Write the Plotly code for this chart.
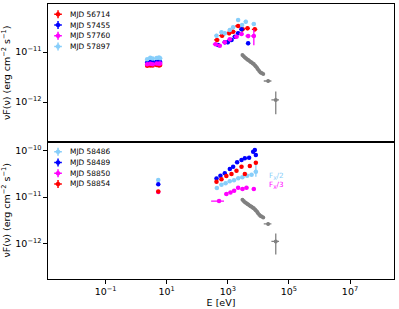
import plotly.graph_objects as go

# ------------------------------------------------------------------ data
# --- top panel: optical/UV (eV, erg cm-2 s-1)
E_uv_top = [2.3, 2.9, 3.5, 4.7, 5.6, 6.1]
F_uv_56714 = [5.3e-12, 5.4e-12, 5.4e-12, 5.5e-12, 5.4e-12, 5.5e-12]
F_uv_57455 = [6.2e-12, 6.4e-12, 6.3e-12, 6.4e-12, 6.5e-12, 6.3e-12]
F_uv_57760 = [5.7e-12, 5.8e-12, 5.7e-12, 5.9e-12, 5.8e-12, 5.9e-12]
F_uv_57897 = [7.2e-12, 7.7e-12, 7.4e-12, 7.6e-12, 7.8e-12, 7.5e-12]

# --- top panel: X-ray
E_x_56714 = [444, 650, 1104, 1494, 2178, 3034, 4424, 7674]
F_x_56714 = [1.74e-11, 2.12e-11, 2.37e-11, 2.55e-11, 3.31e-11, 2.84e-11, 2.98e-11, 2.84e-11]
E_x_57455 = [481, 797, 1000, 1321, 1698, 2178, 2814, 4632]
F_x_57455 = [1.38e-11, 1.56e-11, 1.56e-11, 1.74e-11, 2.02e-11, 2.37e-11, 2.84e-11, 1.49e-11]
E_x_57760 = [396, 547, 797, 1164, 1928, 2814, 4632, 7117]
F_x_57760 = [1.43e-11, 1.34e-11, 1.56e-11, 1.79e-11, 2.02e-11, 2.29e-11, 2.09e-11, 2.09e-11]
Ferr_pct_57760 = [8, 8, 8, 8, 8, 8, 10, 35]
E_x_57897 = [427, 621, 797, 1164, 1494, 2178, 2944, 3891, 7117]
F_x_57897 = [2.12e-11, 2.48e-11, 2.37e-11, 2.75e-11, 3.12e-11, 4.37e-11, 3.47e-11, 4.04e-11, 3.63e-11]

# --- hard X-ray (grey, both panels)
E_hx = [3020, 3311, 3631, 3981, 4365, 4677, 5129, 5623, 6026, 6607, 7079, 7762,
        8318, 9120, 9772, 10715, 11749, 12882, 14454, 20893, 37154]
F_hx = [8.71e-12, 8.22e-12, 7.76e-12, 7.41e-12, 7.08e-12, 6.92e-12, 6.61e-12, 6.31e-12,
        6.17e-12, 5.89e-12, 5.75e-12, 5.37e-12, 5.13e-12, 4.79e-12, 4.47e-12, 4.17e-12,
        3.89e-12, 3.80e-12, 3.63e-12, 2.63e-12, 1.10e-12]
Eerr_pct_hx = [3] * 19 + [28, 28]
Ferr_pct_hx = [5] * 19 + [8, 48]

# --- bottom panel: optical/UV
E_uv_bot = [5.3]
F_uv_58486 = [2.34e-11]
F_uv_58489 = [1.90e-11]
F_uv_58850 = [1.28e-11]
F_uv_58854 = [1.32e-11]

# --- bottom panel: X-ray
E_x_58486 = [440, 620, 850, 1160, 1600, 2200, 3000, 4300, 6000, 8300]
F_x_58486 = [1.56e-11, 1.85e-11, 1.98e-11, 2.20e-11, 2.30e-11, 2.55e-11, 2.68e-11, 2.90e-11, 3.05e-11, 3.52e-11]
Ferr_up_pct_58486 = [6, 6, 6, 6, 6, 6, 6, 6, 6, 53]
Ferr_dn_pct_58486 = [6, 6, 6, 6, 6, 6, 6, 6, 6, 22]
E_x_58489 = [427, 575, 797, 1164, 1494, 2018, 2814, 3606, 4989, 6761, 7674, 8279]
F_x_58489 = [2.53e-11, 2.88e-11, 3.25e-11, 4.03e-11, 4.51e-11, 5.62e-11, 6.30e-11, 6.86e-11,
             7.06e-11, 9.50e-11, 1.035e-10, 8.07e-11]
E_x_58850 = [518, 899, 1225, 1610, 2178, 3034, 4100, 7117]
F_x_58850 = [8.2e-12, 1.16e-11, 1.26e-11, 1.37e-11, 1.59e-11, 1.49e-11, 1.59e-11, 1.49e-11]
Eerr_pct_58850 = [45, 15, 15, 15, 15, 15, 15, 15]
E_x_58854 = [427, 621, 899, 1321, 1928, 2814, 3606, 5260, 8279]
F_x_58854 = [2.14e-11, 2.41e-11, 2.84e-11, 3.14e-11, 3.70e-11, 4.51e-11, 3.14e-11, 4.68e-11, 5.51e-11]

labels_top = ["MJD 56714", "MJD 57455", "MJD 57760", "MJD 57897"]
labels_bot = ["MJD 58486", "MJD 58489", "MJD 58850", "MJD 58854"]
x_tickvals = [1e-1, 1e1, 1e3, 1e5, 1e7]
x_ticktext = ["10<sup>−1</sup>", "10<sup>1</sup>", "10<sup>3</sup>", "10<sup>5</sup>", "10<sup>7</sup>"]
y_tickvals_top = [1e-12, 1e-11]
y_ticktext_top = ["10<sup>−12</sup>", "10<sup>−11</sup>"]
y_tickvals_bot = [1e-12, 1e-11, 1e-10]
y_ticktext_bot = ["10<sup>−12</sup>", "10<sup>−11</sup>", "10<sup>−10</sup>"]
fx_notes = ["F<sub>X</sub>/2", "F<sub>X</sub>/3"]

# ------------------------------------------------------------------ style
FONT = "DejaVu Sans"
RED, BLUE, MAGENTA, LBLUE, GREY = "#ff0000", "#0000ff", "#ff00ff", "#87cefa", "#808080"

fig = go.Figure()


def err_spec(vals, spec, minus=None):
    if isinstance(spec, list):
        d = dict(type="data", array=[v * p / 100 for v, p in zip(vals, spec)])
        if minus is not None:
            d["symmetric"] = False
            d["arrayminus"] = [v * p / 100 for v, p in zip(vals, minus)]
        return d
    return dict(type="percent", value=spec)


def series(E, F, color, xa, ya, xerr=20, yerr=9, yerr_minus=None, size=4.5):
    ex = err_spec(E, xerr)
    ey = err_spec(F, yerr, yerr_minus)
    ex.update(color=color, thickness=1.3, width=0)
    ey.update(color=color, thickness=1.3, width=0)
    fig.add_trace(go.Scatter(
        x=E, y=F, mode="markers", xaxis=xa, yaxis=ya,
        marker=dict(color=color, size=size, line=dict(width=0)),
        error_x=ex, error_y=ey, showlegend=False, hoverinfo="skip"))


# top panel
series(E_hx, F_hx, GREY, "x", "y", Eerr_pct_hx, Ferr_pct_hx, size=4)
series(E_uv_top, F_uv_56714, RED, "x", "y", 12, 4)
series(E_x_56714, F_x_56714, RED, "x", "y", 20, 9)
series(E_uv_top, F_uv_57455, BLUE, "x", "y", 12, 4)
series(E_x_57455, F_x_57455, BLUE, "x", "y", 15, 8)
series(E_uv_top, F_uv_57760, MAGENTA, "x", "y", 12, 4)
series(E_x_57760, F_x_57760, MAGENTA, "x", "y", 18, Ferr_pct_57760)
series(E_uv_top, F_uv_57897, LBLUE, "x", "y", 12, 4)
series(E_x_57897, F_x_57897, LBLUE, "x", "y", 15, 9)

# bottom panel
series(E_hx, F_hx, GREY, "x2", "y2", Eerr_pct_hx, Ferr_pct_hx, size=4)
series(E_uv_bot, F_uv_58486, LBLUE, "x2", "y2", 5, 5)
series(E_x_58486, F_x_58486, LBLUE, "x2", "y2", 15, Ferr_up_pct_58486, Ferr_dn_pct_58486)
series(E_uv_bot, F_uv_58489, BLUE, "x2", "y2", 5, 5)
series(E_x_58489, F_x_58489, BLUE, "x2", "y2", 12, 7)
series(E_uv_bot, F_uv_58850, MAGENTA, "x2", "y2", 5, 5)
series(E_x_58850, F_x_58850, MAGENTA, "x2", "y2", Eerr_pct_58850, 7)
series(E_uv_bot, F_uv_58854, RED, "x2", "y2", 5, 5)
series(E_x_58854, F_x_58854, RED, "x2", "y2", 12, 7)

# hand-drawn legends (errorbar-style symbols) on overlay axes
LEG_SYM_X, LEG_TXT_X = 0.029, 0.058
LEG_Y0, LEG_DY = 0.925, 0.0778
annotations = []
for labels, colors, xa, ya in [
        (labels_top, [RED, BLUE, MAGENTA, LBLUE], "x3", "y3"),
        (labels_bot, [LBLUE, BLUE, MAGENTA, RED], "x4", "y4")]:
    for i, (lab, col) in enumerate(zip(labels, colors)):
        yy = LEG_Y0 - i * LEG_DY
        fig.add_trace(go.Scatter(
            x=[LEG_SYM_X], y=[yy], mode="markers", xaxis=xa, yaxis=ya,
            marker=dict(color=col, size=4.5),
            error_x=dict(type="constant", value=0.011, color=col, thickness=1.5, width=0),
            error_y=dict(type="constant", value=0.029, color=col, thickness=1.5, width=0),
            showlegend=False, hoverinfo="skip"))
        annotations.append(dict(x=LEG_TXT_X, y=yy, xref=xa, yref=ya, text=lab,
                                showarrow=False, xanchor="left", yanchor="middle",
                                font=dict(family=FONT, size=7.4, color="black")))

# Fx/2, Fx/3 notes (log coordinates on bottom axes)
annotations.append(dict(x=4.28, y=-10.54, xref="x2", yref="y2", text=fx_notes[0],
                        showarrow=False, xanchor="left", yanchor="middle",
                        font=dict(family=FONT, size=7.2, color=LBLUE)))
annotations.append(dict(x=4.28, y=-10.74, xref="x2", yref="y2", text=fx_notes[1],
                        showarrow=False, xanchor="left", yanchor="middle",
                        font=dict(family=FONT, size=7.2, color=MAGENTA)))

axis_common = dict(showline=True, linecolor="black", linewidth=1.3, mirror=True,
                   ticks="outside", ticklen=3.5, tickwidth=0.8, tickcolor="black",
                   showgrid=False, zeroline=False, automargin=False,
                   tickfont=dict(family=FONT, size=9.5, color="black"))
XRANGE = [-2.885, 8.44]
ylabel = "νF(ν) (erg cm<sup>−2</sup> s<sup>−1</sup>)"

fig.update_layout(
    width=399, height=309,
    margin=dict(l=48, r=5, t=4, b=30, pad=0),
    paper_bgcolor="white", plot_bgcolor="white",
    showlegend=False,
    font=dict(family=FONT, size=9.5, color="black"),
    xaxis=dict(axis_common, type="log", range=XRANGE, domain=[0, 1], anchor="y",
               showticklabels=False, ticks=""),
    yaxis=dict(axis_common, type="log", range=[-12.79, -10.04], domain=[0.5, 1], anchor="x",
               tickvals=y_tickvals_top, ticktext=y_ticktext_top,
               title=dict(text=ylabel, font=dict(family=FONT, size=9.5), standoff=3)),
    xaxis2=dict(axis_common, type="log", range=XRANGE, domain=[0, 1], anchor="y2",
                tickvals=x_tickvals, ticktext=x_ticktext,
                title=dict(text="E [eV]", font=dict(family=FONT, size=9.5), standoff=2)),
    yaxis2=dict(axis_common, type="log", range=[-12.77, -9.80], domain=[0, 0.5], anchor="x2",
                tickvals=y_tickvals_bot, ticktext=y_ticktext_bot,
                title=dict(text=ylabel, font=dict(family=FONT, size=9.5), standoff=3)),
    xaxis3=dict(range=[0, 1], overlaying="x", anchor="y3", visible=False),
    yaxis3=dict(range=[0, 1], overlaying="y", anchor="x3", visible=False),
    xaxis4=dict(range=[0, 1], overlaying="x2", anchor="y4", visible=False),
    yaxis4=dict(range=[0, 1], overlaying="y2", anchor="x4", visible=False),
    annotations=annotations,
)

fig.write_html("out.html", config={"displayModeBar": False},
               post_script="document.body.style.margin='0';")
